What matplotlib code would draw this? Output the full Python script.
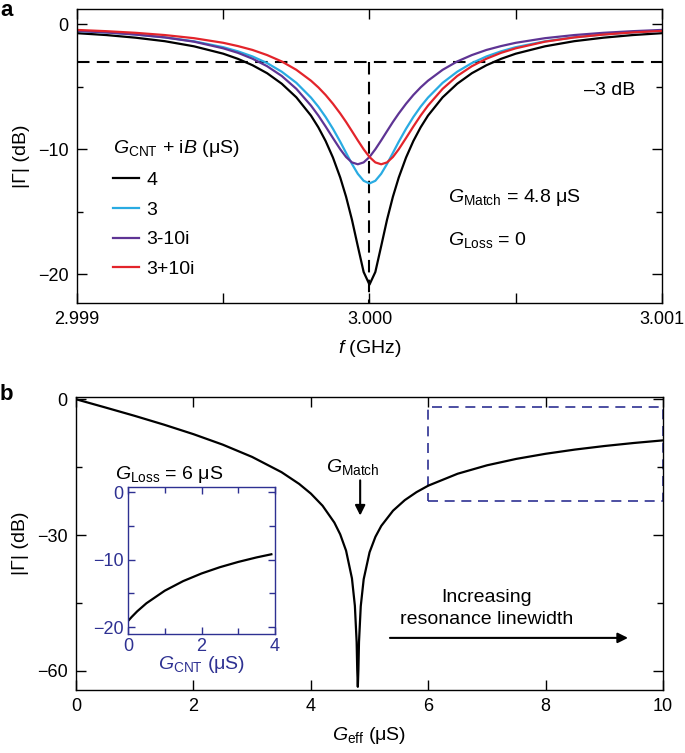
import matplotlib
matplotlib.use("Agg")
import matplotlib.pyplot as plt
from matplotlib.patches import Rectangle
from matplotlib.ticker import MultipleLocator

plt.rcParams['font.family'] = ['Liberation Sans', 'DejaVu Sans']
plt.rcParams['mathtext.fontset'] = 'custom'
plt.rcParams['mathtext.rm'] = 'Liberation Sans'
plt.rcParams['mathtext.it'] = 'Liberation Sans:italic'
plt.rcParams['font.size'] = 14

# ---- panel a data: |Gamma| (dB) vs frequency (GHz)
freq_ghz = [2.9990, 2.9991, 2.9992, 2.9993, 2.9994, 2.9995, 2.99955, 2.9996, 2.99965, 2.9997,
            2.99975, 2.9998, 2.999825, 2.99985, 2.999875, 2.9999, 2.99992, 2.99994, 2.99996, 2.99998,
            3.0000, 3.00002, 3.00004, 3.00006, 3.00008, 3.0001, 3.000125, 3.00015, 3.000175, 3.0002,
            3.00025, 3.0003, 3.00035, 3.0004, 3.00045, 3.0005, 3.0006, 3.0007, 3.0008, 3.0009, 3.0010]
g_black = [-0.73, -0.88, -1.09, -1.37, -1.78, -2.37, -2.78, -3.29, -3.93, -4.77,
           -5.86, -7.32, -8.25, -9.35, -10.67, -12.27, -13.81, -15.64, -17.75, -19.82,
           -20.83, -19.82, -17.75, -15.64, -13.81, -12.27, -10.67, -9.35, -8.25, -7.32,
           -5.86, -4.77, -3.93, -3.29, -2.78, -2.37, -1.78, -1.37, -1.09, -0.88, -0.73]
g_blue = [-0.55, -0.67, -0.83, -1.06, -1.38, -1.85, -2.18, -2.59, -3.12, -3.81,
          -4.70, -5.88, -6.60, -7.43, -8.37, -9.41, -10.30, -11.18, -11.97, -12.53,
          -12.74, -12.53, -11.97, -11.18, -10.30, -9.41, -8.37, -7.43, -6.60, -5.88,
          -4.70, -3.81, -3.12, -2.59, -2.18, -1.85, -1.38, -1.06, -0.83, -0.67, -0.55]
g_purple = [-0.55, -0.67, -0.84, -1.07, -1.41, -1.94, -2.30, -2.77, -3.37, -4.15,
            -5.18, -6.52, -7.31, -8.19, -9.11, -10.01, -10.63, -11.06, -11.21, -11.06,
            -10.63, -10.01, -9.30, -8.56, -7.83, -7.15, -6.37, -5.67, -5.06, -4.53,
            -3.66, -2.99, -2.48, -2.07, -1.76, -1.50, -1.13, -0.88, -0.70, -0.57, -0.47]
g_red = [-0.47, -0.57, -0.70, -0.88, -1.13, -1.50, -1.76, -2.07, -2.48, -2.99,
         -3.66, -4.53, -5.06, -5.67, -6.37, -7.15, -7.83, -8.56, -9.30, -10.01,
         -10.63, -11.06, -11.21, -11.06, -10.63, -10.01, -9.11, -8.19, -7.31, -6.52,
         -5.18, -4.15, -3.37, -2.77, -2.30, -1.94, -1.41, -1.07, -0.84, -0.67, -0.55]
labels_a = ['4', '3', '3-10i', '3+10i']
colors_a = ['black', '#29ABE2', '#5E3494', '#E3242B']

# ---- panel b data: |Gamma| (dB) vs G_eff (uS)
g_eff = [0, 0.25, 0.5, 1.0, 1.5, 2.0, 2.5, 3.0, 3.5, 3.8, 4.0, 4.2, 4.4, 4.5, 4.6, 4.7, 4.75,
         4.78, 4.79, 4.80, 4.81, 4.82, 4.85, 4.9, 5.0, 5.1, 5.2, 5.4, 5.6, 5.8, 6.0,
         6.5, 7.0, 7.5, 8.0, 8.5, 9.0, 9.5, 10.0]
gamma_b = [0, -0.91, -1.82, -3.67, -5.62, -7.71, -10.03, -12.74, -16.10, -18.69, -20.83,
           -23.52, -27.23, -29.83, -33.44, -39.55, -45.62, -53.61, -59.64, -63.5, -59.65,
           -53.64, -45.71, -39.74, -33.80, -30.37, -27.96, -24.61, -22.28, -20.51, -19.08,
           -16.45, -14.59, -13.17, -12.04, -11.11, -10.33, -9.66, -9.08]

# inset: G_Loss = 6 uS
g_cnt = [0, 0.1, 0.25, 0.5, 1.0, 1.5, 2.0, 2.5, 3.0, 3.5, 3.9]
gamma_inset = [-19.08, -18.47, -17.64, -16.45, -14.59, -13.17, -12.04, -11.11, -10.33, -9.66, -9.2]
g_loss = 6
box_db = (-22.5, -1.8)

navy = '#2E3192'

fig = plt.figure(figsize=(6.85, 7.53), dpi=100)


def style(ax, color='black', major=7, minor=4, pad=6, size=13):
    ax.tick_params(which='both', direction='in', top=True, right=True, color=color,
                   labelcolor=color, width=1.0, labelsize=size)
    ax.tick_params(which='major', length=major, pad=pad)
    ax.tick_params(which='minor', length=minor)
    for s in ax.spines.values():
        s.set_linewidth(1.0)
        s.set_color(color)


# ---------------- panel a
ax1 = fig.add_axes([0.1124, 0.5976, 0.854, 0.3904])
for y, c, lab in zip([g_black, g_blue, g_purple, g_red], colors_a, labels_a):
    ax1.plot(freq_ghz, y, color=c, lw=1.6, label=lab)
ax1.axhline(-3, color='black', lw=1.5, ls=(0, (6, 3.5)), zorder=0)
ax1.plot([3.0, 3.0], [-23, -3], color='black', lw=1.5, ls=(0, (6, 3.5)), zorder=0)
ax1.set_xlim(2.999, 3.001)
ax1.set_ylim(-22.3, 1.2)
ax1.set_xticks([2.999, 2.9995, 3.000, 3.0005, 3.001])
ax1.set_xticklabels(['2.999', '', '3.000', '', '3.001'])
ax1.set_yticks([-20, -10, 0])
ax1.set_yticklabels(['\u221220', '\u221210', '0'])
ax1.yaxis.set_minor_locator(MultipleLocator(5))
style(ax1)
ax1.set_xlabel('$f$ (GHz)', labelpad=7)
ax1.set_ylabel('|\u0393| (dB)', labelpad=6)
leg = ax1.legend(title='$G_{\\mathrm{CNT}}$ + i$B$ (\u03bcS)', frameon=False,
                 loc='upper left', bbox_to_anchor=(0.062, 0.56), handlelength=1.3,
                 handletextpad=0.4, labelspacing=0.62, alignment='left', fontsize=14,
                 title_fontsize=14, borderaxespad=0, borderpad=0)
ax1.text(3.00091, -5.3, '\u20133 dB', ha='right', va='center')
ax1.text(3.00027, -13.9, '$G_{\\mathrm{Match}}$ = 4.8 \u03bcS', ha='left', va='center')
ax1.text(3.00027, -17.3, '$G_{\\mathrm{Loss}}$ = 0', ha='left', va='center')
fig.text(0.0, 1.0, 'a', fontsize=16, fontweight='bold', va='top', ha='left')

# ---------------- panel b
ax2 = fig.add_axes([0.111, 0.0837, 0.857, 0.3891])
ax2.plot(g_eff, gamma_b, color='black', lw=1.6)
ax2.set_xlim(0, 10)
ax2.set_ylim(-64.2, 0.5)
ax2.set_xticks([0, 2, 4, 6, 8, 10])
ax2.set_yticks([-60, -30, 0])
ax2.set_yticklabels(['\u221260', '\u221230', '0'])
ax2.yaxis.set_minor_locator(MultipleLocator(15))
style(ax2)
ax2.set_xlabel('$G_{\\mathrm{eff}}$ (\u03bcS)', labelpad=7)
ax2.set_ylabel('|\u0393| (dB)', labelpad=6)
ax2.add_patch(Rectangle((g_loss, box_db[0]), g_cnt[-1] + 0.1, box_db[1] - box_db[0],
                        fill=False, ec=navy, lw=1.2, ls=(0, (6, 4)), clip_on=False))
ax2.text(4.25, -15.0, '$G_{\\mathrm{Match}}$', ha='left', va='center')
ax2.annotate('', xy=(4.84, -26.3), xytext=(4.84, -17.3),
             arrowprops=dict(arrowstyle='-|>', color='black', lw=1.5, mutation_scale=15))
ax2.text(7.0, -46.2, 'Increasing\nresonance linewidth', ha='center', va='center',
         linespacing=1.4)
ax2.annotate('', xy=(9.45, -52.7), xytext=(5.3, -52.7),
             arrowprops=dict(arrowstyle='-|>', color='black', lw=1.5, mutation_scale=15))
fig.text(0.0, 0.49, 'b', fontsize=16, fontweight='bold', va='top', ha='left')

# ---------------- inset
ax3 = fig.add_axes([0.1869, 0.158, 0.2146, 0.1952])
ax3.plot(g_cnt, gamma_inset, color='black', lw=1.6)
ax3.set_xlim(0, 4)
ax3.set_ylim(-21, 0.75)
ax3.set_xticks([0, 2, 4])
ax3.xaxis.set_minor_locator(MultipleLocator(1))
ax3.set_yticks([-20, -10, 0])
ax3.set_yticklabels(['\u221220', '\u221210', '0'])
ax3.yaxis.set_minor_locator(MultipleLocator(5))
style(ax3, color=navy, major=5, minor=4, pad=3, size=13)
ax3.set_xlabel('$G_{\\mathrm{CNT}}$ (\u03bcS)', color=navy, labelpad=-1, fontsize=14)
ax3.set_title('$G_{\\mathrm{Loss}}$ = 6 \u03bcS', loc='left', x=-0.09, pad=6, fontsize=14)

fig.savefig('out.png', dpi=100)
